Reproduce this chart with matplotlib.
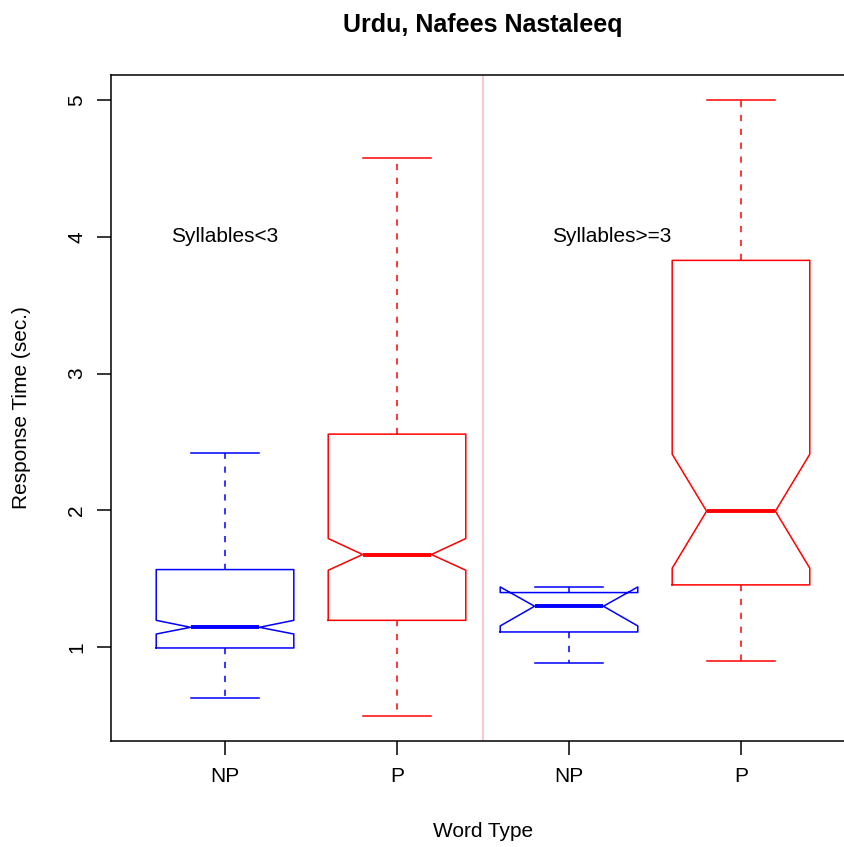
import matplotlib
matplotlib.use('Agg')
import matplotlib.pyplot as plt

plt.rcParams['font.family'] = ['Liberation Sans', 'DejaVu Sans']
plt.rcParams['lines.scale_dashes'] = False

# notched box statistics (sec.)
labels   = ['NP', 'P', 'NP', 'P']
whislo   = [0.629, 0.498, 0.888, 0.900]
q1       = [0.995, 1.197, 1.112, 1.456]
cilo     = [1.097, 1.563, 1.156, 1.578]
med      = [1.146, 1.678, 1.300, 1.995]
cihi     = [1.197, 1.795, 1.441, 2.411]
q3       = [1.568, 2.558, 1.400, 3.828]
whishi   = [2.421, 4.576, 1.441, 5.000]
colors   = ['blue', 'red', 'blue', 'red']
group_text = ['Syllables<3', 'Syllables>=3']

W, H = 845, 847
fig = plt.figure(figsize=(W / 100, H / 100), dpi=100)
ax = fig.add_axes([111.5 / W, (H - 741) / H, 743 / W, 666 / H])

lw = 1.1
for i in range(len(labels)):
    st = dict(med=med[i], q1=q1[i], q3=q3[i], whislo=whislo[i],
              whishi=whishi[i], cilo=cilo[i], cihi=cihi[i], fliers=[])
    c = colors[i]
    ax.bxp([st], positions=[i + 1], widths=0.8, shownotches=True,
           showfliers=False, capwidths=0.4,
           boxprops=dict(color=c, linewidth=lw),
           whiskerprops=dict(color=c, linewidth=lw, linestyle=(0, (4.5, 5.5))),
           capprops=dict(color=c, linewidth=lw),
           medianprops=dict(color=c, linewidth=2.8, solid_capstyle='butt'))

ax.axvline(2.5, color='pink', linewidth=1.3)
ax.text(1, 4, group_text[0], ha='center', va='center', fontsize=15)
ax.text(3.25, 4, group_text[1], ha='center', va='center', fontsize=15)

ax.set_xlim(0.34, 4.66)
ax.set_ylim(0.315, 5.183)
ax.set_xticks([1, 2, 3, 4])
ax.set_xticklabels(labels)
ax.set_yticks([1, 2, 3, 4, 5])
ax.set_yticklabels(['1', '2', '3', '4', '5'], rotation=90, va='center')
ax.tick_params(length=10, width=lw, labelsize=15)
ax.tick_params(axis='x', pad=9)
ax.tick_params(axis='y', pad=8)
for s in ax.spines.values():
    s.set_linewidth(lw)
# the plot frame runs past the right edge of the image
ax.spines['right'].set_visible(False)

fig.text(483 / W, 1 - 25 / H, 'Urdu, Nafees Nastaleeq', ha='center', va='center',
         fontsize=18, fontweight='bold')
fig.text(483 / W, 1 - 831 / H, 'Word Type', ha='center', va='center', fontsize=15)
fig.text(22 / W, 1 - 408 / H, 'Response Time (sec.)', ha='center', va='center',
         rotation=90, fontsize=15)

fig.savefig('out.png', dpi=100)
